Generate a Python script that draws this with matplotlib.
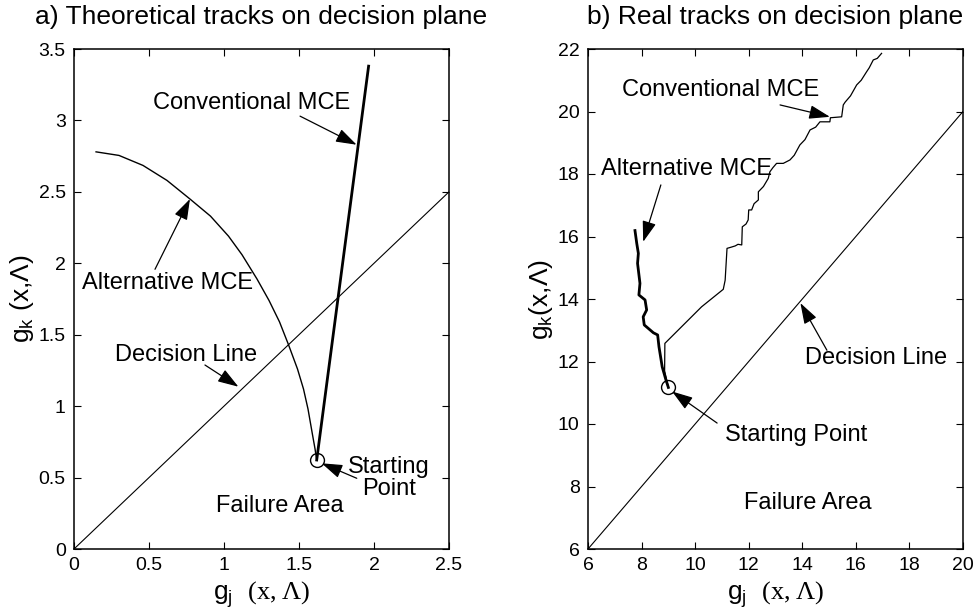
import numpy as np
import matplotlib.pyplot as plt

plt.rcParams['font.family'] = 'Liberation Sans'
plt.rcParams['mathtext.fontset'] = 'custom'
plt.rcParams['mathtext.rm'] = 'Liberation Serif'
plt.rcParams['mathtext.sf'] = 'Liberation Sans'

# a) theoretical tracks (read off the picture)
alt_a_x = [0.147, 0.30, 0.46, 0.62, 0.773, 0.91, 1.03, 1.12, 1.22, 1.30, 1.37, 1.43,
           1.49, 1.53, 1.56, 1.59, 1.607, 1.618]
alt_a_y = [2.78, 2.755, 2.685, 2.58, 2.45, 2.33, 2.19, 2.06, 1.89, 1.74, 1.59, 1.43,
           1.26, 1.12, 0.98, 0.80, 0.70, 0.623]
conv_a_x = [1.618, 1.964]
conv_a_y = [0.623, 3.38]
dec_a = [0, 2.5]
start_a = [1.618, 0.623]

# b) real tracks
alt_b_x = [9.0, 8.91, 8.77, 8.65, 8.60, 8.44, 8.25, 8.10, 8.06, 8.19, 8.13, 7.90, 7.94,
           7.85, 7.88, 7.82, 7.754]
alt_b_y = [11.17, 11.41, 11.83, 12.47, 12.85, 12.92, 13.06, 13.17, 13.43, 13.65, 13.97,
           14.13, 14.5, 15.14, 15.46, 15.78, 16.19]
conv_b_x = [9.0, 8.86, 8.87, 10.24, 11.05, 11.12, 11.19, 11.35, 11.5, 11.6, 11.74, 11.76,
            11.9, 11.98, 12.0, 12.11, 12.2, 12.36, 12.36, 12.55, 12.73, 12.79, 12.9, 13.04,
            13.29, 13.54, 13.7, 13.91, 14.1, 14.29, 14.5, 14.66, 15.03, 15.05, 15.47, 15.53,
            15.6, 15.8, 16.03, 16.2, 16.40, 16.5, 16.65, 16.8, 16.96]
conv_b_y = [11.17, 11.7, 12.58, 13.75, 14.31, 14.6, 15.62, 15.66, 15.7, 15.75, 15.73, 16.31,
            16.4, 16.53, 16.85, 16.85, 17.05, 17.17, 17.43, 17.6, 17.86, 18.07, 18.2, 18.34,
            18.34, 18.45, 18.6, 18.93, 19.1, 19.41, 19.5, 19.67, 19.67, 19.80, 19.83, 20.21,
            20.3, 20.5, 20.85, 21.0, 21.27, 21.4, 21.65, 21.7, 21.86]
dec_b = [6, 20]
start_b = [9.0, 11.17]

fs = 17
arr = dict(arrowstyle='-|>,head_length=0.75,head_width=0.25', color='k', lw=0.9,
           shrinkA=0, shrinkB=0, mutation_scale=17)


def arrow(ax, tail, tip):
    ax.annotate('', xy=tip, xytext=tail, arrowprops=arr)


def style(ax):
    ax.tick_params(direction='in', top=True, right=True, labelsize=14, length=5, pad=6)
    for s in ax.spines.values():
        s.set_linewidth(1.1)


fig = plt.figure(figsize=(9.77, 6.16), dpi=100)
ax1 = fig.add_axes([74/977, 67/616, 375/977, 500/616])
ax2 = fig.add_axes([588/977, 67/616, 375/977, 500/616])

# left panel
ax1.plot(dec_a, dec_a, 'k', lw=0.8)
ax1.plot(alt_a_x, alt_a_y, 'k', lw=1.0)
ax1.plot(conv_a_x, conv_a_y, 'k', lw=2.0)
ax1.plot(start_a[0], start_a[1], 'o', mfc='none', mec='k', ms=10, mew=1)
ax1.set_xlim(0, 2.5)
ax1.set_ylim(0, 3.5)
ax1.set_xticks([0, 0.5, 1, 1.5, 2, 2.5])
ax1.set_xticklabels(['0', '0.5', '1', '1.5', '2', '2.5'])
ax1.set_yticks([0, 0.5, 1, 1.5, 2, 2.5, 3, 3.5])
ax1.set_yticklabels(['0', '0.5', '1', '1.5', '2', '2.5', '3', '3.5'])
style(ax1)
ax1.set_title('a) Theoretical tracks on decision plane', fontsize=19, pad=18)
ax1.set_xlabel(r'g$_\mathsf{j}$  $\mathrm{(x,\Lambda)}$', fontsize=19, labelpad=3)
ax1.set_ylabel(r'g$_\mathsf{k}$ (x,Λ)', fontsize=19, labelpad=2)

ax1.text(0.524, 3.12, 'Conventional MCE', fontsize=fs, va='center')
arrow(ax1, (1.507, 3.03), (1.884, 2.83))
ax1.text(0.05, 1.86, 'Alternative MCE', fontsize=fs, va='center')
arrow(ax1, (0.54, 1.958), (0.773, 2.45))
ax1.text(0.273, 1.36, 'Decision Line', fontsize=fs, va='center')
arrow(ax1, (0.873, 1.288), (1.096, 1.136))
ax1.text(2.10, 0.50, 'Starting\nPoint', fontsize=fs, va='center', ha='center',
         multialignment='center', linespacing=1.0)
arrow(ax1, (1.885, 0.495), (1.651, 0.60))
ax1.text(1.375, 0.30, 'Failure Area', fontsize=fs, va='center', ha='center')

# right panel
ax2.plot(dec_b, dec_b, 'k', lw=0.8)
ax2.plot(conv_b_x, conv_b_y, 'k', lw=0.9)
ax2.plot(alt_b_x, alt_b_y, 'k', lw=2.0)
ax2.plot(start_b[0], start_b[1], 'o', mfc='none', mec='k', ms=10, mew=1)
ax2.set_xlim(6, 20)
ax2.set_ylim(6, 22)
ax2.set_xticks(np.arange(6, 21, 2))
ax2.set_yticks(np.arange(6, 23, 2))
style(ax2)
ax2.set_title('b) Real tracks on decision plane', fontsize=19, pad=18)
ax2.set_xlabel(r'g$_\mathsf{j}$  $\mathrm{(x,\Lambda)}$', fontsize=19, labelpad=3)
ax2.set_ylabel(r'g$_\mathsf{k}$(x,Λ)', fontsize=19, labelpad=2)

ax2.text(7.27, 20.69, 'Conventional MCE', fontsize=fs, va='center')
arrow(ax2, (13.17, 20.21), (15.03, 19.83))
ax2.text(6.47, 18.16, 'Alternative MCE', fontsize=fs, va='center')
arrow(ax2, (8.72, 17.65), (8.06, 15.83))
ax2.text(14.11, 12.11, 'Decision Line', fontsize=fs, va='center')
arrow(ax2, (14.92, 12.36), (13.93, 13.87))
ax2.text(11.13, 9.65, 'Starting Point', fontsize=fs, va='center')
arrow(ax2, (10.82, 10.03), (9.14, 11.04))
ax2.text(11.84, 7.47, 'Failure Area', fontsize=fs, va='center')

fig.savefig('out.png', dpi=100)
